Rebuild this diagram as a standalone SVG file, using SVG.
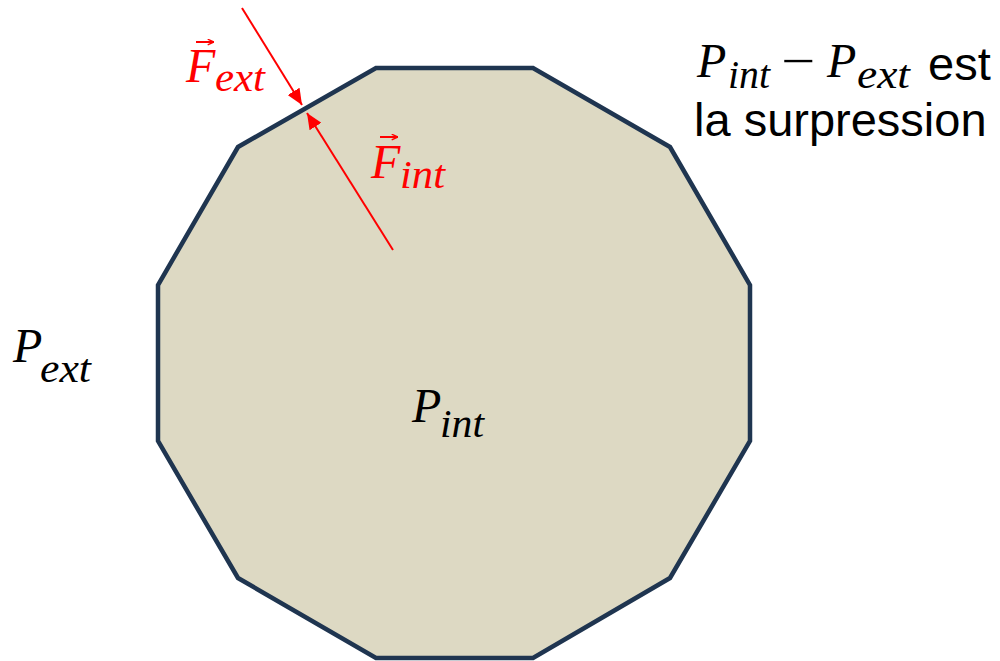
<svg xmlns="http://www.w3.org/2000/svg" width="1000" height="661" viewBox="0 0 1000 661">
<style>
.math{font-family:"Liberation Serif","DejaVu Serif",serif;font-style:italic;}
.big{font-size:48px;}
.sub{font-size:39px;}
.red{fill:#FF0000;}
.blk{fill:#000000;}
.sans{font-family:"Liberation Sans",Arial,sans-serif;font-size:47px;fill:#000;}
.force{stroke:#FF0000;stroke-width:2;fill:none;}
.vec{stroke:#FF0000;stroke-width:2;fill:none;}
</style>
<defs>
<marker id="ah" viewBox="0 0 16 14" refX="16" refY="7" markerWidth="16" markerHeight="14" markerUnits="userSpaceOnUse" orient="auto">
<path d="M0,0 L16,7 L0,14 z" fill="#FF0000"/>
</marker>
<marker id="vh" viewBox="0 0 10 10" refX="10" refY="5" markerWidth="7" markerHeight="7" markerUnits="userSpaceOnUse" orient="auto">
<path d="M1,1 L10,5 L1,9" fill="none" stroke="#FF0000" stroke-width="2"/>
</marker>
</defs>
<rect width="1000" height="661" fill="#FFFFFF"/>
<g id="polygon">
<polygon points="376,68 533,68 670,147 750,285 750,441 670,578 533,658 376,658 238,578 158,441 158,285 238,147" fill="#DDD9C3" stroke="#1F3550" stroke-width="4.5" stroke-linejoin="miter"/>
</g>
<g id="connectors">
<line class="force" x1="242" y1="8" x2="302" y2="105" marker-end="url(#ah)"/>
<line class="force" x1="393" y1="250" x2="307" y2="113" marker-end="url(#ah)"/>
</g>
<g id="label-fext">
<text class="math big red" x="186" y="82">F</text>
<text class="math sub red" x="215" y="91" textLength="50" lengthAdjust="spacingAndGlyphs">ext</text>
<line class="vec" x1="196" y1="42" x2="214" y2="42" marker-end="url(#vh)"/>
</g>
<g id="label-fint">
<text class="math big red" x="371" y="178">F</text>
<text class="math sub red" x="400" y="188" textLength="45" lengthAdjust="spacingAndGlyphs">int</text>
<line class="vec" x1="380" y1="137" x2="398" y2="137" marker-end="url(#vh)"/>
</g>
<g id="label-pext">
<text class="math big blk" x="13" y="362">P</text>
<text class="math sub blk" x="40" y="382" textLength="51" lengthAdjust="spacingAndGlyphs">ext</text>
</g>
<g id="label-pint">
<text class="math big blk" x="412" y="422">P</text>
<text class="math sub blk" x="440" y="437" textLength="44" lengthAdjust="spacingAndGlyphs">int</text>
</g>
<g id="label-surpression">
<text class="math big blk" x="697" y="77">P</text>
<text class="math sub blk" x="728" y="88" textLength="42" lengthAdjust="spacingAndGlyphs">int</text>
<text x="781" y="77" font-family="Liberation Serif, serif" font-size="48" fill="#000" textLength="34" lengthAdjust="spacingAndGlyphs">−</text>
<text class="math big blk" x="827" y="77">P</text>
<text class="math sub blk" x="857" y="88" textLength="53" lengthAdjust="spacingAndGlyphs">ext</text>
<text class="sans" x="928" y="80">est</text>
<text class="sans" x="694" y="136">la surpression</text>
</g>
</svg>
